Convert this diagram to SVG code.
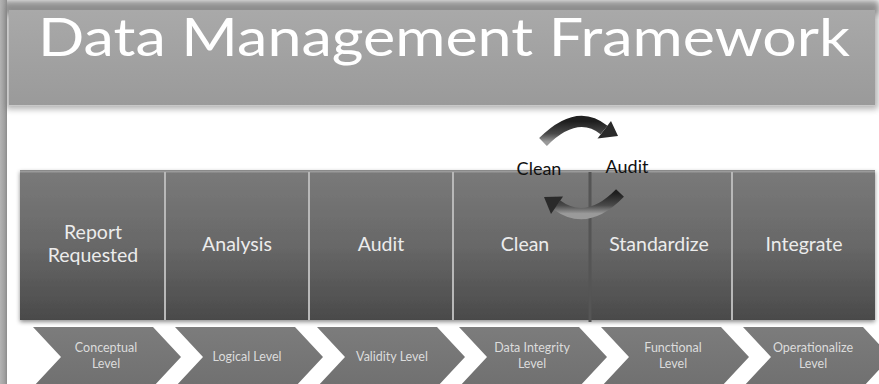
<svg xmlns="http://www.w3.org/2000/svg" width="879" height="384" viewBox="0 0 879 384">
  <defs>
    <linearGradient id="headerFill" x1="0" y1="0" x2="0" y2="1">
      <stop offset="0" stop-color="#a9a9a9"/>
      <stop offset="1" stop-color="#9a9a9a"/>
    </linearGradient>
    <linearGradient id="boxFill" x1="0" y1="0" x2="0" y2="1">
      <stop offset="0" stop-color="#7a7a7a"/>
      <stop offset="0.5" stop-color="#686868"/>
      <stop offset="1" stop-color="#4a4a4a"/>
    </linearGradient>
    <linearGradient id="chevFill" x1="0" y1="0" x2="0" y2="1">
      <stop offset="0" stop-color="#7c7c7c"/>
      <stop offset="1" stop-color="#707070"/>
    </linearGradient>
    <linearGradient id="arrowShade" x1="0" y1="0" x2="0" y2="1">
      <stop offset="0" stop-color="#1e1e1e"/>
      <stop offset="0.6" stop-color="#4a4a4a"/>
      <stop offset="1" stop-color="#9a9a9a"/>
    </linearGradient>
    <linearGradient id="edgeShade" x1="0" y1="0" x2="1" y2="0">
      <stop offset="0" stop-color="#b4b4b4"/>
      <stop offset="0.6" stop-color="#a2a2a2"/>
      <stop offset="1" stop-color="#8c8c8c"/>
    </linearGradient>
    <filter id="soft" x="-10%" y="-30%" width="120%" height="160%">
      <feGaussianBlur stdDeviation="3"/>
    </filter>
    <filter id="drop" x="-5%" y="-5%" width="110%" height="115%">
      <feDropShadow dx="0" dy="2" stdDeviation="2" flood-color="#000" flood-opacity="0.45"/>
    </filter>
    <path id="chevron" d="M0,0 H120 L148,30 L120,60 H0 L28,30 Z"/>
  </defs>
  <style>
    .title { font-family: Lato, "Liberation Sans", sans-serif; font-size: 52px; fill: #ffffff; }
    .step { font-family: Lato, "Liberation Sans", sans-serif; font-size: 19.5px; fill: #ececec; text-anchor: middle; }
    .level { font-family: Lato, "Liberation Sans", sans-serif; font-size: 12.5px; fill: #dcdcdc; text-anchor: middle; }
    .cycle { font-family: Lato, "Liberation Sans", sans-serif; font-size: 18px; fill: #111111; text-anchor: middle; }
    .box { fill: url(#boxFill); }
    .divider { stroke: #b8b8b8; stroke-width: 2; }
    .chev { fill: url(#chevFill); }
    .band { fill: none; stroke: url(#arrowShade); stroke-width: 11; }
    .head { fill: #2a2a2a; }
  </style>

  <rect width="879" height="384" fill="#ffffff"/>

  <!-- frame shading along the top and left edges -->
  <rect x="0" y="0" width="879" height="14" fill="#9c9c9c" filter="url(#soft)"/>
  <rect x="0" y="0" width="7" height="384" fill="url(#edgeShade)"/>

  <!-- title banner -->
  <g id="header">
    <rect x="6" y="6" width="872" height="103" fill="#7a7a7a" filter="url(#soft)" opacity="0.6"/>
    <rect x="9" y="10" width="866" height="95" fill="url(#headerFill)"/>
    <line x1="9" y1="105.5" x2="875" y2="105.5" stroke="#c8c8c8" stroke-width="1"/>
    <text class="title" x="38" y="56" textLength="812" lengthAdjust="spacingAndGlyphs">Data Management Framework</text>
  </g>

  <!-- process steps -->
  <g id="steps" filter="url(#drop)">
    <rect class="box" x="20" y="170" width="855" height="150"/>
    <line x1="20" y1="171.5" x2="875" y2="171.5" stroke="#9a9a9a" stroke-width="2"/>
  </g>
  <g id="step-report">
    <line class="divider" x1="165" y1="172" x2="165" y2="320"/>
    <text class="step" x="93" y="239">Report</text>
    <text class="step" x="93" y="262">Requested</text>
  </g>
  <g id="step-analysis">
    <line class="divider" x1="309" y1="172" x2="309" y2="320"/>
    <text class="step" x="237" y="251">Analysis</text>
  </g>
  <g id="step-audit">
    <line class="divider" x1="453" y1="172" x2="453" y2="320"/>
    <text class="step" x="381" y="251">Audit</text>
  </g>
  <g id="step-clean">
    <line x1="590" y1="172" x2="590" y2="322" stroke="#555" stroke-width="3"/>
    <text class="step" x="525" y="251">Clean</text>
  </g>
  <g id="step-standardize">
    <line class="divider" x1="732" y1="172" x2="732" y2="320"/>
    <text class="step" x="659" y="251">Standardize</text>
  </g>
  <g id="step-integrate">
    <text class="step" x="804" y="251">Integrate</text>
  </g>

  <!-- level chevrons -->
  <g id="level-conceptual">
    <use href="#chevron" class="chev" x="33" y="327"/>
    <text class="level" x="106" y="352">Conceptual</text>
    <text class="level" x="106" y="368">Level</text>
  </g>
  <g id="level-logical">
    <use href="#chevron" class="chev" x="175" y="327"/>
    <text class="level" x="247" y="361">Logical Level</text>
  </g>
  <g id="level-validity">
    <use href="#chevron" class="chev" x="317" y="327"/>
    <text class="level" x="392" y="361">Validity Level</text>
  </g>
  <g id="level-integrity">
    <use href="#chevron" class="chev" x="459" y="327"/>
    <text class="level" x="532" y="352">Data Integrity</text>
    <text class="level" x="532" y="368">Level</text>
  </g>
  <g id="level-functional">
    <use href="#chevron" class="chev" x="601" y="327"/>
    <text class="level" x="673" y="352">Functional</text>
    <text class="level" x="673" y="368">Level</text>
  </g>
  <g id="level-operationalize">
    <use href="#chevron" class="chev" x="743" y="327"/>
    <text class="level" x="813" y="352">Operationalize</text>
    <text class="level" x="813" y="368">Level</text>
  </g>

  <!-- clean / audit cycle -->
  <g id="connectors">
    <path class="band" d="M543,142 Q577,108 604,130"/>
    <polygon class="head" points="597.5,138.5 611,121 618,136"/>
    <path class="band" d="M620,193 Q587,227 557,205"/>
    <polygon class="head" points="563,196.5 551,214 544,197"/>
  </g>
  <g id="label-clean">
    <text class="cycle" x="539" y="175">Clean</text>
  </g>
  <g id="label-audit">
    <text class="cycle" x="627" y="173">Audit</text>
  </g>
</svg>
